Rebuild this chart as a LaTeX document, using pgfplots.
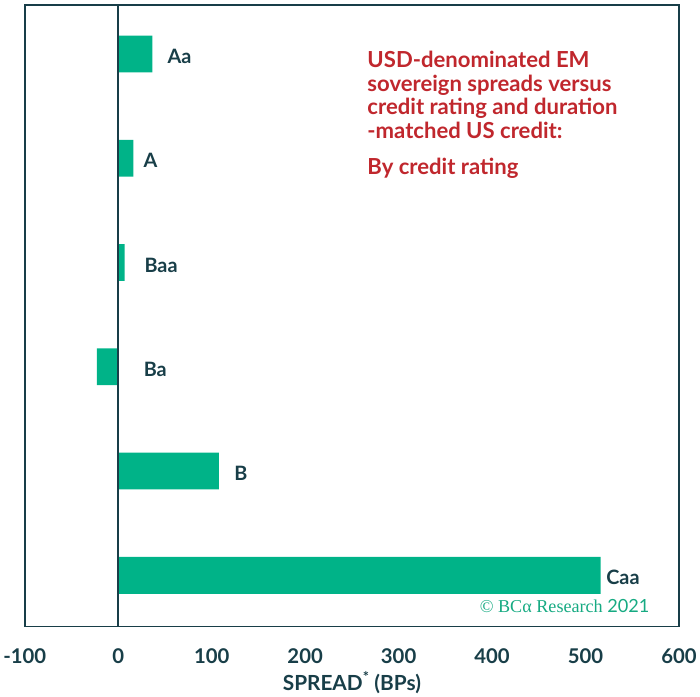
\documentclass[border=0pt]{standalone}
\usepackage{pgfplots}
\pgfplotsset{compat=1.18}
\usepackage{fontspec}
\setmainfont{Lato}
\newfontfamily\serifmark{Liberation Serif}
\definecolor{bargreen}{RGB}{0,179,136}
\definecolor{inkdark}{RGB}{24,62,72}
\definecolor{titlered}{RGB}{192,39,45}
\definecolor{credgreen}{RGB}{22,170,130}

\begin{document}
\begin{tikzpicture}
\begin{axis}[
  scale only axis,
  width=658bp, height=625bp,
  xmin=-100, xmax=600,
  ymin=-0.49, ymax=5.47,
  xtick={-100,0,...,600},
  ytick=\empty,
  major tick length=0pt,
  axis line style={inkdark, line width=1.6bp},
  tick label style={font=\fontsize{20.5}{24}\selectfont\bfseries, text=inkdark},
  xticklabel style={yshift=-19bp},
  /pgf/number format/assume math mode=true,
  /pgf/number format/.cd, 1000 sep={}, /pgfplots/.cd,
  xlabel={SPREAD\textsuperscript{*} (BPs)},
  xlabel style={font=\fontsize{21}{24}\selectfont\bfseries, text=inkdark, yshift=-1bp},
  clip=false,
]
% spreads by credit rating (0 = Caa at the bottom, 5 = Aa at the top)
\addplot[xbar, bar width=0.353, fill=bargreen, draw=none] coordinates {
  (36.5,5) (16.3,4) (6.8,3) (-22.8,2) (107.7,1) (516,0)
};
% zero reference line
\draw[inkdark, line width=1.6bp] (axis cs:0,-0.49) -- (axis cs:0,5.47);
% rating labels beside the bars
\addplot[only marks, mark=none, nodes near coords, point meta=explicit symbolic,
  nodes near coords style={anchor=west, inner sep=0pt, yshift=-2.5bp,
    font=\fontsize{20}{24}\selectfont\bfseries, text=inkdark}]
  table[meta=lab] {
x y lab
52.7 5 Aa
26.9 4 A
28 3 Baa
27.2 2 Ba
124 1 B
522 0 Caa
};
% chart title
\node[anchor=north west, align=left, inner sep=0pt, text=titlered,
  font=\fontsize{22.3}{24}\selectfont\bfseries]
  at (rel axis cs:0.5235,0.9265)
  {USD-denominated EM\\ sovereign spreads versus\\ credit rating and duration\\ -matched US credit:\\[12bp] By credit rating};
% copyright line
\node[anchor=base east, inner sep=0pt, text=credgreen,
  font=\fontsize{18.3}{20}\serifmark]
  at (rel axis cs:0.955,0.0224) {© BCα Research {\fontspec{Lato}2021}};
\end{axis}
% white margin above the frame
\path ([yshift=5bp]current axis.north west);
\end{tikzpicture}
\end{document}
